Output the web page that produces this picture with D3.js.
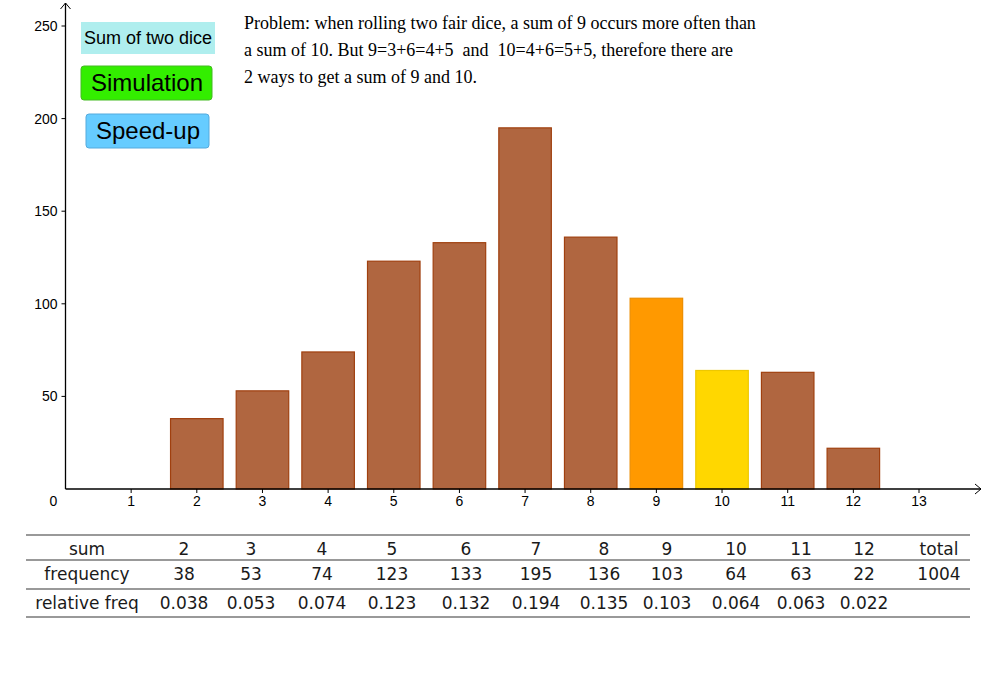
<!DOCTYPE html>
<html><head><meta charset="utf-8">
<script src="https://cdn.jsdelivr.net/npm/d3@7"></script>
<style>body{margin:0;background:#fff}svg{display:block}</style>
</head><body>
<script>
const sums = [2,3,4,5,6,7,8,9,10,11,12];
const freqs = [38,53,74,123,133,195,136,103,64,63,22];
const relFreqs = ["0.038","0.053","0.074","0.123","0.132","0.194","0.135","0.103","0.064","0.063","0.022"];
const total = 1004;
const xTicks = [0,1,2,3,4,5,6,7,8,9,10,11,12,13];
const yTicks = [50,100,150,200,250];
const highlight = {9:"#ff9900", 10:"#ffd700"};
const problemLines = [
  "Problem: when rolling two fair dice, a sum of 9 occurs more often than",
  "a sum of 10. But 9=3+6=4+5  and  10=4+6=5+5, therefore there are",
  "2 ways to get a sum of 9 and 10."
];

const W=986,H=694;
const svg=d3.select("body").append("svg").attr("width",W).attr("height",H);
const x=d3.scaleLinear().domain([0,13]).range([65.5,919]);
const y=d3.scaleLinear().domain([0,250]).range([489,26]);

// bars
svg.selectAll("rect.bar").data(sums.map((s,i)=>({s,f:freqs[i]}))).enter().append("rect")
  .attr("x",d=>x(d.s-0.4)).attr("width",d=>x(d.s+0.4)-x(d.s-0.4))
  .attr("y",d=>y(d.f)).attr("height",d=>y(0)-y(d.f))
  .attr("fill",d=>highlight[d.s]||"#b06640")
  .attr("stroke",d=>highlight[d.s]?d3.color(highlight[d.s]).darker(0.2):"#a0400f")
  .attr("stroke-width",1.2);

// axes
const ax=svg.append("g").style("font-family","'Liberation Sans', Arial, sans-serif").style("font-size","14px");
ax.append("line").attr("x1",x(0)).attr("x2",981).attr("y1",y(0)).attr("y2",y(0)).attr("stroke","#000").attr("stroke-width",1.3);
ax.append("path").attr("d",`M${975},${y(0)-5}L${981},${y(0)}L${975},${y(0)+5}`).attr("fill","none").attr("stroke","#000");
xTicks.forEach(t=>{
  if(t>0) ax.append("line").attr("x1",x(t)).attr("x2",x(t)).attr("y1",y(0)).attr("y2",y(0)+4).attr("stroke","#000");
  ax.append("text").attr("x",t===0?x(t)-12:x(t)).attr("y",y(0)+17).attr("text-anchor","middle").text(t);
});
ax.append("line").attr("x1",x(0)).attr("x2",x(0)).attr("y1",y(0)).attr("y2",3).attr("stroke","#000").attr("stroke-width",1.3);
ax.append("path").attr("d",`M${x(0)-5},9L${x(0)},3L${x(0)+5},9`).attr("fill","none").attr("stroke","#000");
yTicks.forEach(t=>{
  ax.append("line").attr("x1",x(0)-4).attr("x2",x(0)).attr("y1",y(t)).attr("y2",y(t)).attr("stroke","#000");
  ax.append("text").attr("x",x(0)-8).attr("y",y(t)+5).attr("text-anchor","end").text(t);
});

// boxes
const g=svg.append("g").style("font-family","'Liberation Sans', Arial, sans-serif");
g.append("rect").attr("x",81).attr("y",22).attr("width",134).attr("height",32).attr("fill","#afeeee");
g.append("text").attr("x",148).attr("y",44).attr("text-anchor","middle").style("font-size","18px").text("Sum of two dice");
g.append("rect").attr("x",81).attr("y",66).attr("width",131).attr("height",34).attr("rx",3).attr("fill","#33ee00").attr("stroke","#44bb22");
g.append("text").attr("x",147).attr("y",91).attr("text-anchor","middle").style("font-size","24px").text("Simulation");
g.append("rect").attr("x",86).attr("y",114).attr("width",123).attr("height",34).attr("rx",3).attr("fill","#66ccff").attr("stroke","#55aadd");
g.append("text").attr("x",148).attr("y",139).attr("text-anchor","middle").style("font-size","24px").text("Speed-up");

// problem text
svg.append("g").style("font-family","'Liberation Serif', 'Times New Roman', serif").style("font-size","18px")
  .selectAll("text").data(problemLines).enter().append("text")
  .attr("x",244).attr("y",(d,i)=>29+i*27).style("white-space","pre").text(d=>d);

// table
const t=svg.append("g").style("font-family","'DejaVu Sans', sans-serif").style("font-size","17px").attr("fill","#1a1a1a");
[535,560,589,617].forEach(yy=>t.append("line").attr("x1",26).attr("x2",970).attr("y1",yy).attr("y2",yy).attr("stroke","#777").attr("stroke-width",1.3));
const colX=[87,184,251,322,392,466,536,604,667,736,801,864,939];
const row1=["sum",...sums.map(String),"total"];
const row2=["frequency",...freqs.map(String),String(total)];
const row3=["relative freq",...relFreqs,""];
[[row1,555],[row2,580],[row3,609]].forEach(([row,yy])=>{
  row.forEach((v,i)=>t.append("text").attr("x",colX[i]).attr("y",yy).attr("text-anchor","middle").text(v));
});
</script>
</body></html>
